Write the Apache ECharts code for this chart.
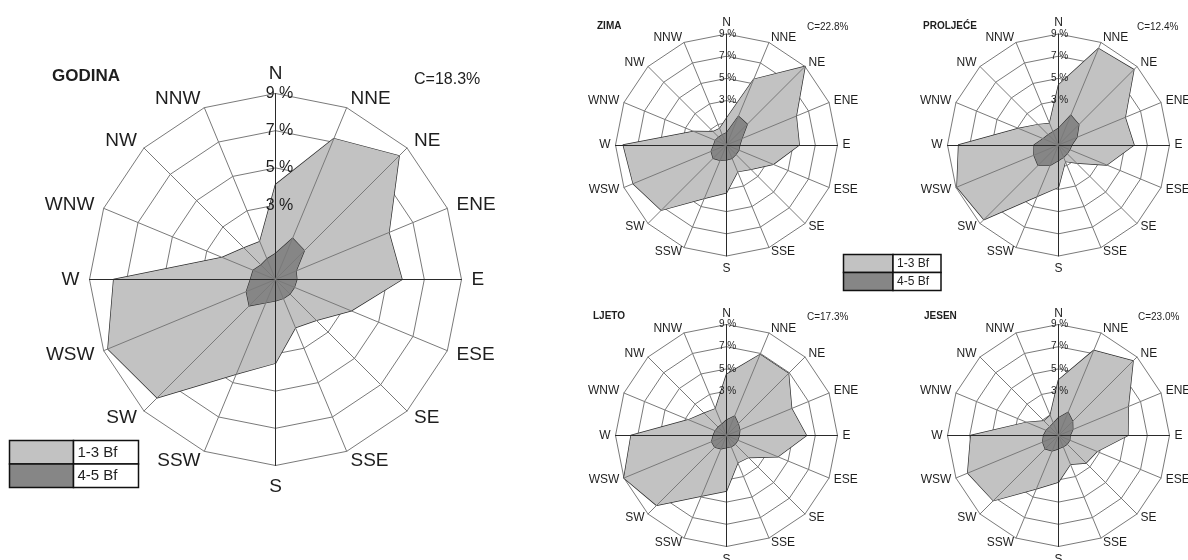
<!DOCTYPE html>
<html>
<head>
<meta charset="utf-8">
<script src="https://cdn.jsdelivr.net/npm/echarts@6/dist/echarts.min.js"></script>
<style>
  html, body { margin: 0; padding: 0; background: #fff; }
  #rose { width: 1188px; height: 560px; }
</style>
</head>
<body>
<div id="rose"></div>
<script>
// Compass sectors, listed clockwise from north
const directions = ['N', 'NNE', 'NE', 'ENE', 'E', 'ESE', 'SE', 'SSE', 'S', 'SSW', 'SW', 'WSW', 'W', 'WNW', 'NW', 'NNW'];
const speedClasses = ['1-3 Bf', '4-5 Bf'];
const roseTitles = ['GODINA', 'ZIMA', 'PROLJEĆE', 'LJETO', 'JESEN'];
const calmShares = [18.3, 22.8, 12.4, 17.3, 23.0];
// radial scale (%): rings every 2 %, centre at -1 %
const scaleMin = -1;
const scaleMax = 9;
const ringCount = 5;
const labelledFrom = 3;

// wind frequency (%) per direction, clockwise from N
const godinaLow  = [4.1, 7.2, 8.4, 5.6, 5.8, 3.4, 2.1, 1.8, 3.5, 4.5, 8.0, 8.75, 7.7, 2.1, 1.4, 1.2];
const godinaHigh = [0.4, 1.4, 1.2, 0.2, 0.15, 0.1, 0.1, 0.1, 0.15, 0.35, 1.0, 0.7, 0.35, 0.3, 0.1, 0.2];
const zimaLow    = [1.4, 5.4, 9.0, 5.8, 5.55, 3.55, 2.1, 1.6, 3.3, 4.2, 7.3, 8.1, 8.3, 2.2, 0.7, 0.6];
const zimaHigh   = [0.1, 1.8, 1.65, 0.5, 0.2, 0.2, 0.2, 0.3, 0.35, 0.5, 0.7, 0.5, 0.15, 0.1, 0.0, 0.0];
const proljeceLow  = [4.4, 8.4, 8.6, 5.5, 5.8, 3.7, 1.3, 0.6, 2.8, 4.0, 8.5, 8.9, 8.0, 2.9, 1.6, 1.1];
const proljeceHigh = [0.5, 1.9, 1.6, 0.8, 0.2, 0.1, 0.1, 0.2, 0.4, 1.0, 1.6, 1.4, 1.2, 0.5, 0.3, 0.3];
const ljetoLow   = [4.5, 6.9, 6.9, 5.35, 6.2, 4.0, 1.8, 1.65, 4.0, 4.9, 7.9, 9.0, 7.6, 2.7, 1.85, 1.6];
const ljetoHigh  = [0.4, 0.9, 0.5, 0.3, 0.15, 0.1, 0.1, 0.1, 0.1, 0.3, 0.5, 0.45, 0.2, 0.1, 0.05, 0.1];
const jesenLow   = [4.0, 7.3, 8.5, 5.8, 5.25, 2.75, 2.5, 1.8, 3.2, 4.2, 7.3, 7.85, 6.9, 2.1, 0.85, 0.95];
const jesenHigh  = [0.6, 1.26, 0.8, 0.4, 0.05, 0.1, 0.1, 0.1, 0.2, 0.5, 0.7, 0.55, 0.35, 0.2, 0.1, 0.2];

const roseLow  = [godinaLow, zimaLow, proljeceLow, ljetoLow, jesenLow];
const roseHigh = [godinaHigh, zimaHigh, proljeceHigh, ljetoHigh, jesenHigh];

// ---- layout ----
const FONT = '"Liberation Sans", Arial, Helvetica, sans-serif';
const INK = '#1e1e1e';
const GRID = '#7a7a7a';
const MAIN_AXIS = '#2a2a2a';
const FILL_LOW = '#c2c2c2';
const FILL_HIGH = '#868686';
const OUTLINE = '#2e2e2e';

const panels = [
  { center: [275.5, 279.5], radius: 186, nameSize: 19, nameGap: 10, pctSize: 16, pctShift: -4, pctPad: 6,
    title: [52, 76, 17], calm: [414, 80, 16] },
  { center: [726.5, 145], radius: 111, nameSize: 12, nameGap: 5, pctSize: 10, pctShift: -1, pctPad: 4,
    title: [597, 26, 10], calm: [807, 27, 10] },
  { center: [1058.5, 145], radius: 111, nameSize: 12, nameGap: 5, pctSize: 10, pctShift: -1, pctPad: 4,
    title: [923, 26, 10], calm: [1137, 27, 10] },
  { center: [726.5, 435.5], radius: 111, nameSize: 12, nameGap: 5, pctSize: 10, pctShift: -1, pctPad: 4,
    title: [593, 316, 10], calm: [807, 317, 10] },
  { center: [1058.5, 435.5], radius: 111, nameSize: 12, nameGap: 5, pctSize: 10, pctShift: -1, pctPad: 4,
    title: [924, 316.5, 10], calm: [1138, 317, 10] }
];

// ECharts lays radar indicators out counter-clockwise; compass roses run clockwise
const ccwOrder = directions.map((d, i) => (directions.length - i) % directions.length);
const toCcw = arr => ccwOrder.map(i => arr[i]);
const isCardinal = name => name.length === 1;

const radars = [];
const series = [];
const graphics = [];

panels.forEach((p, k) => {
  const names = toCcw(directions);
  // rings + direction names (below the filled areas)
  radars.push({
    center: p.center, radius: p.radius, startAngle: 90, shape: 'polygon',
    splitNumber: ringCount, z: 0,
    indicator: names.map(n => {
      const ind = { name: n, min: scaleMin, max: scaleMax };
      if (n === 'S') ind.nameGap = p.nameGap + 2;
      return ind;
    }),
    axisName: { color: INK, fontSize: p.nameSize, fontFamily: FONT },
    nameGap: p.nameGap,
    splitLine: { lineStyle: { color: GRID, width: 1 } },
    splitArea: { show: false },
    axisLine: { show: false },
    axisTick: { show: false },
    axisLabel: { show: false }
  });
  // spokes + percentage labels (above the filled areas)
  radars.push({
    center: p.center, radius: p.radius, startAngle: 90, shape: 'polygon',
    splitNumber: ringCount, z: 5,
    indicator: names.map(n => {
      const ind = { name: n, min: scaleMin, max: scaleMax };
      if (isCardinal(n)) ind.axisLine = { lineStyle: { color: MAIN_AXIS, width: 1 } };
      if (n === 'N') {
        ind.axisLabel = {
          show: true, color: INK, fontSize: p.pctSize, fontFamily: FONT,
          align: 'center', verticalAlign: 'middle', margin: p.pctShift,
          padding: [0, 0, p.pctPad, 0],
          formatter: v => (v >= labelledFrom ? v + ' %' : '')
        };
      }
      return ind;
    }),
    axisName: { show: false },
    splitLine: { show: false },
    splitArea: { show: false },
    axisLine: { show: true, lineStyle: { color: GRID, width: 1 } },
    axisTick: { show: false },
    axisLabel: { show: false }
  });

  series.push({
    type: 'radar',
    radarIndex: 2 * k,
    z: 2,
    symbol: 'none',
    silent: true,
    data: [
      {
        name: speedClasses[0], value: toCcw(roseLow[k]),
        areaStyle: { color: FILL_LOW, opacity: 1 },
        lineStyle: { color: OUTLINE, width: 1.4 },
        itemStyle: { color: FILL_LOW }
      },
      {
        name: speedClasses[1], value: toCcw(roseHigh[k]),
        areaStyle: { color: FILL_HIGH, opacity: 1 },
        lineStyle: { color: OUTLINE, width: 1.2 },
        itemStyle: { color: FILL_HIGH }
      }
    ]
  });

  graphics.push({
    type: 'text', x: p.title[0], y: p.title[1],
    style: { text: roseTitles[k], fontSize: p.title[2], fontWeight: 'bold', fontFamily: FONT, fill: INK, verticalAlign: 'middle' }
  });
  graphics.push({
    type: 'text', x: p.calm[0], y: p.calm[1],
    style: { text: 'C=' + calmShares[k].toFixed(1) + '%', fontSize: p.calm[2], fontFamily: FONT, fill: INK, verticalAlign: 'middle' }
  });
});

// speed-class key: swatch cell + label cell per row
function addKey(x, y, swatchW, labelW, rowH, fontSize) {
  const fills = [FILL_LOW, FILL_HIGH];
  speedClasses.forEach((label, i) => {
    const top = y + i * rowH;
    graphics.push({ type: 'rect', shape: { x: x, y: top, width: swatchW, height: rowH },
      style: { fill: fills[i], stroke: '#111', lineWidth: 1.5 } });
    graphics.push({ type: 'rect', shape: { x: x + swatchW, y: top, width: labelW, height: rowH },
      style: { fill: '#fff', stroke: '#111', lineWidth: 1.5 } });
    graphics.push({ type: 'text', x: x + swatchW + 4, y: top + rowH / 2 + 0.5,
      style: { text: label, fontSize: fontSize, fontFamily: FONT, fill: INK, verticalAlign: 'middle' } });
  });
}
addKey(9.5, 440.5, 64, 65, 23.5, 15);
addKey(843.5, 254.5, 49.5, 48, 18, 12);

const chart = echarts.init(document.getElementById('rose'), null, { renderer: 'canvas' });
chart.setOption({
  animation: false,
  backgroundColor: '#fff',
  radar: radars,
  series: series,
  graphic: graphics
});
</script>
</body>
</html>
